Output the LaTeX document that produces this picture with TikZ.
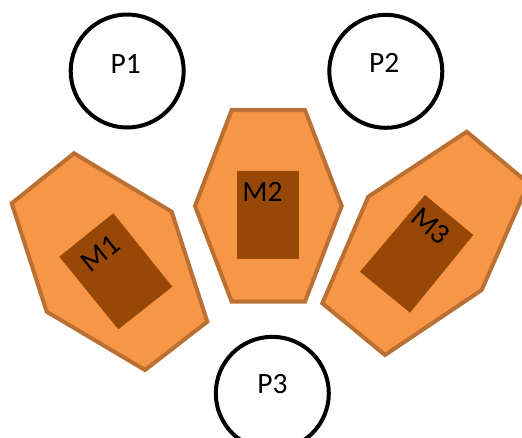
\documentclass[tikz,border=0pt]{standalone}
\usepackage{fontspec}
\setmainfont{Carlito}
\definecolor{hexfill}{RGB}{247,150,70}
\definecolor{hexline}{RGB}{185,112,50}
\definecolor{boxfill}{RGB}{151,71,6}
\begin{document}
\begin{tikzpicture}[x=1pt,y=-1pt,
  hexagon/.style={fill=hexfill, draw=hexline, line width=4pt},
  core/.style={fill=boxfill},
  place/.style={circle, draw=black, line width=4pt, minimum size=113pt, inner sep=0pt},
  lbl/.style={font=\fontsize{29.5}{35}\selectfont, inner sep=0pt, text=black}]
\clip (0,0) rectangle (522,437);
\fill[white] (0,0) rectangle (522,437);
% hexagons
\draw[hexagon] (74,153.3) -- (171.7,211.7) -- (207.3,321.7) -- (145,370) -- (46.7,311.7) -- (11.7,203.3) -- cycle;
\draw[hexagon] (231.7,110) -- (305,110) -- (341.7,206) -- (305,301.7) -- (231.7,301.7) -- (195,206) -- cycle;
\draw[hexagon] (466.7,131.7) -- (528.5,183.3) -- (481.7,290) -- (385,355) -- (322.3,303.3) -- (368.3,196.7) -- cycle;
% inner boxes
\fill[core] (59.3,256.7) -- (113.3,213.3) -- (172.3,286.7) -- (118.3,329.3) -- cycle;
\fill[core] (237.3,171) rectangle (299,258.7);
\fill[core] (360,271.7) -- (425,195) -- (473.3,235) -- (410,312.7) -- cycle;
% labels of machines
\node[lbl, rotate=38.8] (m1) at (100.7,253.3) {M1};
\node[lbl] (m2) at (262.5,191.7) {M2};
\node[lbl, rotate=-40] (m3) at (430.7,225.7) {M3};
% circles
\node[place] (c1) at (127.2,71) {};
\node[place] (c2) at (385.8,71.3) {};
\node[place] (c3) at (272.3,393.3) {};
\node[lbl] (p1) at (125.8,64.2) {P1};
\node[lbl] (p2) at (384.2,63.3) {P2};
\node[lbl] (p3) at (272.5,384.2) {P3};
\end{tikzpicture}
\end{document}
